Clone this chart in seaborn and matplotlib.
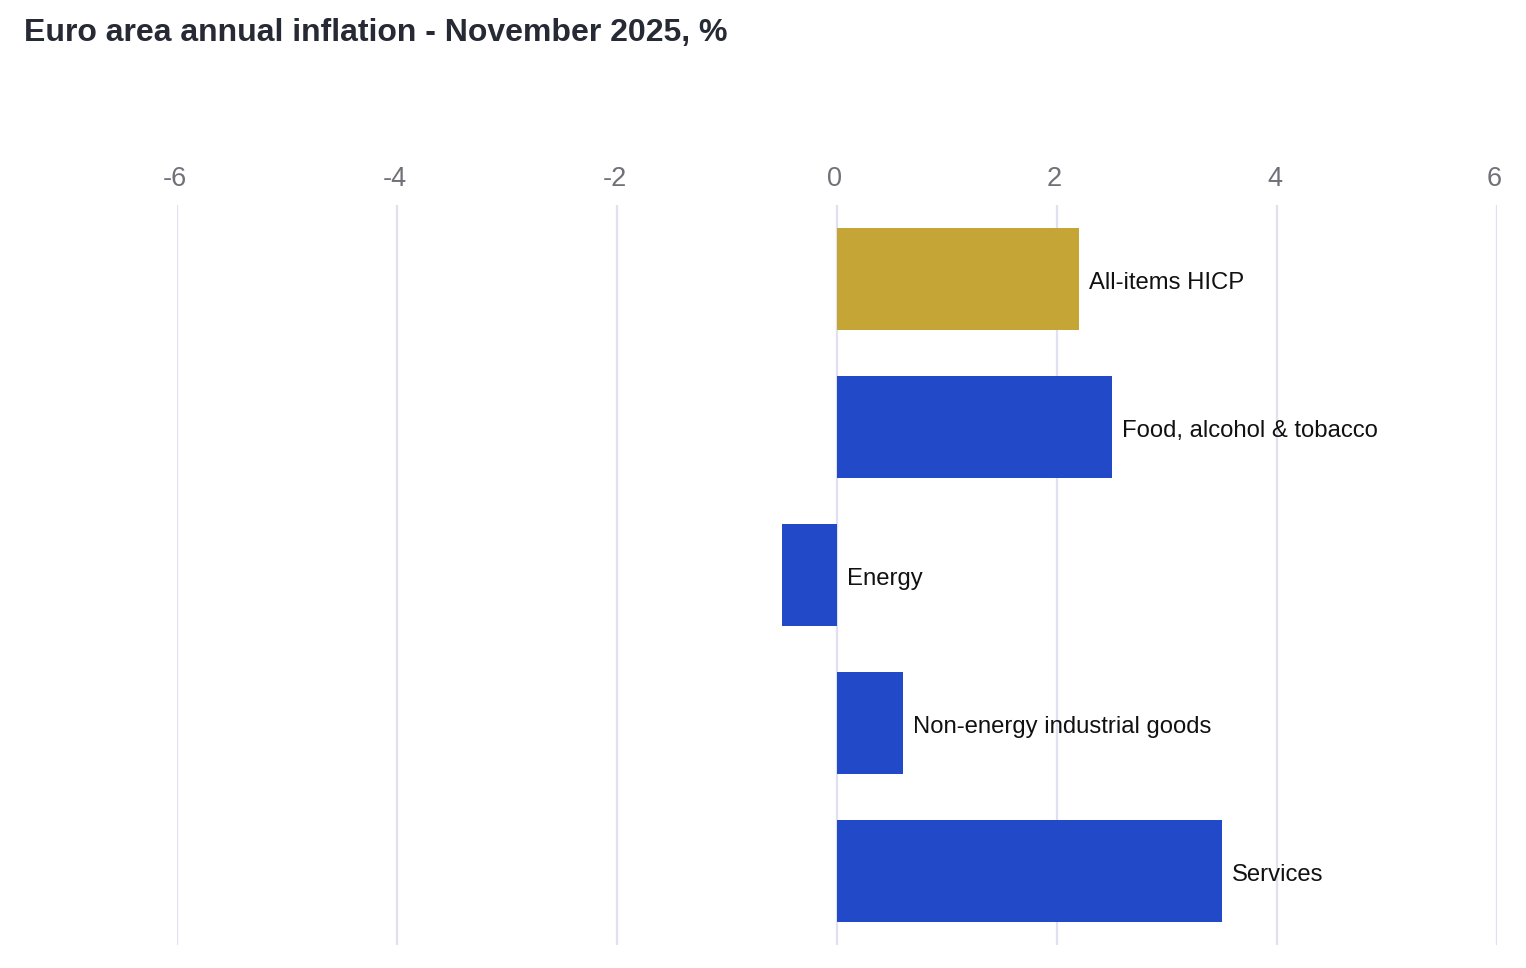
import matplotlib
matplotlib.use("Agg")
import matplotlib.pyplot as plt
import matplotlib.transforms as mtransforms
import seaborn as sns
import pandas as pd

categories = ["All-items HICP", "Food, alcohol & tobacco", "Energy",
              "Non-energy industrial goods", "Services"]
values = [2.2, 2.5, -0.5, 0.6, 3.5]
bar_colors = ["#C4A535", "#2249C7", "#2249C7", "#2249C7", "#2249C7"]
tick_values = [-6, -4, -2, 0, 2, 4, 6]
title = "Euro area annual inflation - November 2025, %"

sns.set_style("white")
plt.rcParams["font.family"] = ["Liberation Sans", "DejaVu Sans"]

df = pd.DataFrame({"category": categories, "value": values})

fig = plt.figure(figsize=(15.26, 9.68), dpi=100)
ax = fig.add_axes([177 / 1526, 23 / 968, 1320 / 1526, 740 / 968])

sns.barplot(data=df, x="value", y="category", hue="category",
            palette=dict(zip(categories, bar_colors)), order=categories,
            orient="h", width=0.69, legend=False, saturation=1,
            linewidth=0, ax=ax, zorder=3)

ax.set_xlim(-6.0, 6.0)
ax.set_ylim(len(categories) - 0.5, -0.5)
ax.set_xticks(tick_values)
ax.set_xticklabels([str(t) for t in tick_values])
ax.xaxis.tick_top()
ax.tick_params(axis="x", length=0, pad=9.5, labelsize=19.5, labelcolor="#707078")
offset = mtransforms.ScaledTranslation(-2.5 / 100, 0, fig.dpi_scale_trans)
for lab in ax.get_xticklabels():
    lab.set_transform(lab.get_transform() + offset)
ax.set_yticks([])
ax.set_xlabel("")
ax.set_ylabel("")
for s in ax.spines.values():
    s.set_visible(False)
ax.grid(axis="x", color="#DFE0F0", linewidth=1.6, zorder=0)
ax.set_axisbelow(True)

for i, (c, v) in enumerate(zip(categories, values)):
    ax.text(max(v, 0) + 0.09, i + 0.025, c, va="center", ha="left",
            fontsize=17.2, color="#111111")

fig.text(24 / 1526, 1 - 33 / 968, title, fontsize=23, fontweight="bold",
         color="#262A35", ha="left", va="center")

fig.savefig("out.png", dpi=100, facecolor="white")
